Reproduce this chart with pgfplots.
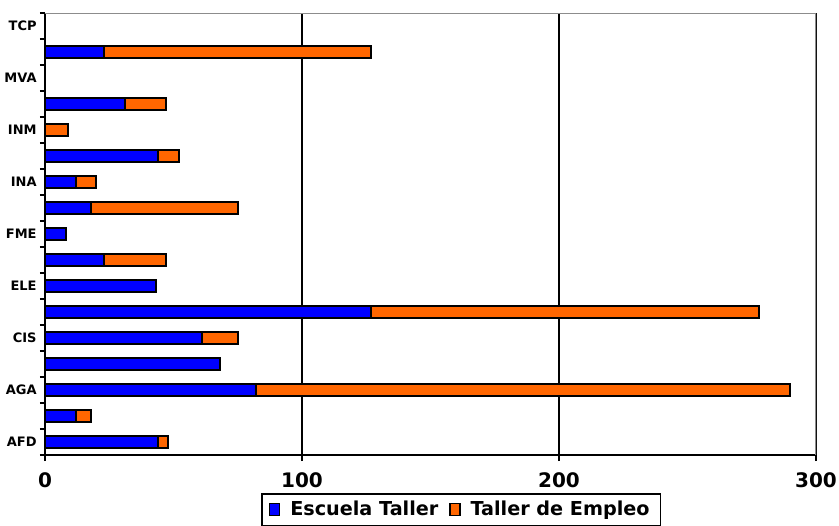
\documentclass[border=0pt]{standalone}
\usepackage{fontspec}
\setmainfont{DejaVu Sans}
\usepackage{pgfplots}
\usepackage{pgfplotstable}
\pgfplotsset{compat=1.18}
\definecolor{escblue}{RGB}{0,0,255}
\definecolor{taorange}{RGB}{255,102,0}

% row, Escuela Taller, total (Escuela Taller + Taller de Empleo)
\pgfplotstableread{
row esc tot
1  44  48
2  12  18
3  82  290
4  68  nan
5  61  75
6  127 278
7  43  nan
8  23  47
9  8   nan
10 18  75
11 12  20
12 44  52
13 nan 9
14 31  47
15 nan nan
16 23  127
17 nan nan
}\datatable

\begin{document}
\begin{tikzpicture}
\begin{axis}[
  scale only axis,
  width=385.5pt, height=221pt,
  xmin=0, xmax=300, ymin=0.5, ymax=17.5,
  axis x line=bottom, axis y line=left,
  axis line style={-, black, line width=1pt},
  xtick={0,100,200,300},
  ytick={1,3,...,17},
  yticklabels={AFD,AGA,CIS,ELE,FME,INA,INM,MVA,TCP},
  minor ytick={0.5,1.5,...,17.5},
  tick align=outside,
  major tick length=3pt, minor tick length=2.5pt,
  major y tick style={draw=none},
  tick style={black, line width=0.8pt},
  xmajorgrids,
  major grid style={black, line width=1pt},
  /pgf/number format/assume math mode=true,
  xticklabel style={font=\bfseries\fontsize{10}{12}\selectfont, yshift=-2.5pt},
  yticklabel style={font=\bfseries\fontsize{6.5}{8}\selectfont, inner sep=1pt},
  xbar, bar width=6pt, bar shift=0pt,
  unbounded coords=discard,
  reverse legend,
  legend columns=2,
  legend style={at={(0.54,0)}, anchor=north, yshift=-19pt,
    draw=black, line width=0.75pt, inner xsep=3.5pt, inner ysep=1.5pt,
    font=\bfseries\fontsize{9.6}{12}\selectfont,
    nodes={inner xsep=2pt},
    /tikz/every odd column/.append style={column sep=3pt},
    /tikz/every even column/.append style={column sep=3.5pt}},
  legend image code/.code={\draw[#1, draw=black, line width=0.6pt] (0pt,-3pt) rectangle (5pt,3pt);},
]
\addplot[fill=taorange, draw=black, line width=1pt] table[x=tot, y=row] {\datatable};
\addlegendentry{Taller de Empleo}
\addplot[fill=escblue, draw=black, line width=1pt] table[x=esc, y=row] {\datatable};
\addlegendentry{Escuela Taller}
\draw[gray!90, line width=1.3pt] (rel axis cs:0,1) -- (rel axis cs:1,1) -- (rel axis cs:1,0);
\end{axis}
\pgfresetboundingbox
\path ([shift={(-22.5pt,-35pt)}]current axis.south west) rectangle ([shift={(11.5pt,6.5pt)}]current axis.north east);
\end{tikzpicture}
\end{document}
